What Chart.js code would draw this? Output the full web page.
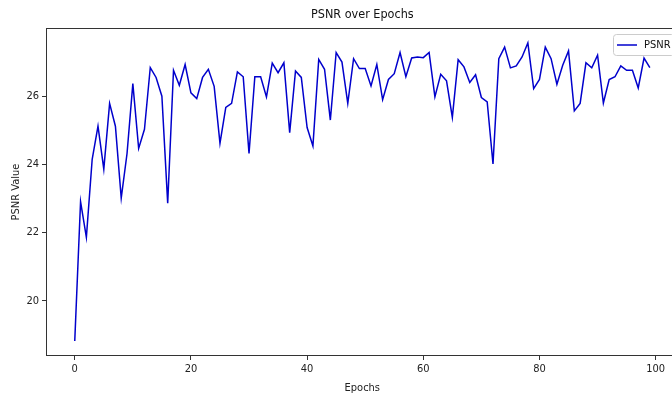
<!DOCTYPE html>
<html lang="en">
<head>
    <meta charset="UTF-8">
    <title>PSNR over Epochs</title>
    <script src="https://cdn.jsdelivr.net/npm/chart.js"></script>
    <style>
        body {
            margin: 0;
            background: #fff;
            overflow: hidden;
        }
        /* a figura original é um pouco mais larga que a janela: a borda direita fica cortada */
        .chart-container {
            width: 680px;
            height: 396px;
        }
    </style>
</head>
<body>
    <div class="chart-container">
        <canvas id="psnrChart"></canvas>
    </div>

    <script>
        // Dados
        const epochs = [
            0, 1, 2, 3, 4, 5, 6, 7, 8, 9, 10, 11, 12, 13, 14, 15, 16, 17, 18, 19,
            20, 21, 22, 23, 24, 25, 26, 27, 28, 29, 30, 31, 32, 33, 34, 35, 36, 37, 38, 39,
            40, 41, 42, 43, 44, 45, 46, 47, 48, 49, 50, 51, 52, 53, 54, 55, 56, 57, 58, 59,
            60, 61, 62, 63, 64, 65, 66, 67, 68, 69, 70, 71, 72, 73, 74, 75, 76, 77, 78, 79,
            80, 81, 82, 83, 84, 85, 86, 87, 88, 89, 90, 91, 92, 93, 94, 95, 96, 97, 98, 99
        ];
        const psnr = [
            18.82, 22.91, 21.86, 24.15, 25.12, 23.86, 25.79, 25.12, 23.01, 24.32,
            26.37, 24.47, 25.03, 26.84, 26.55, 26.00, 22.86, 26.76, 26.32, 26.93,
            26.10, 25.93, 26.55, 26.79, 26.29, 24.62, 25.67, 25.79, 26.71, 26.57,
            24.32, 26.57, 26.57, 25.98, 26.97, 26.69, 26.98, 24.93, 26.74, 26.55,
            25.08, 24.54, 27.08, 26.79, 25.30, 27.28, 27.00, 25.79, 27.10, 26.81,
            26.81, 26.30, 26.93, 25.90, 26.49, 26.66, 27.28, 26.57, 27.12, 27.15,
            27.13, 27.28, 25.98, 26.64, 26.45, 25.38, 27.07, 26.86, 26.40, 26.63,
            25.96, 25.83, 24.01, 27.10, 27.44, 26.83, 26.89, 27.15, 27.56, 26.22,
            26.49, 27.44, 27.10, 26.35, 26.91, 27.33, 25.57, 25.79, 26.98, 26.83,
            27.20, 25.80, 26.49, 26.57, 26.89, 26.76, 26.76, 26.24, 27.12, 26.84
        ];
        const xTicks = [0, 20, 40, 60, 80, 100];
        const yTicks = [20, 22, 24, 26];

        const FONT = "'DejaVu Sans Condensed', 'DejaVu Sans', sans-serif";
        const AXIS_COLOR = '#333';

        // Título, moldura e legenda no estilo matplotlib
        const decorPlugin = {
            id: 'decor',
            afterDraw(chart) {
                const { ctx, chartArea: a } = chart;
                ctx.save();
                // moldura do gráfico
                ctx.strokeStyle = AXIS_COLOR;
                ctx.lineWidth = 1;
                ctx.strokeRect(a.left + 0.5, a.top + 0.5, a.right - a.left - 1, a.bottom - a.top - 1);

                // título
                ctx.fillStyle = '#111';
                ctx.font = '12.5px ' + FONT;
                ctx.textAlign = 'center';
                ctx.textBaseline = 'middle';
                ctx.fillText('PSNR over Epochs', (a.left + a.right) / 2, 15);

                // legenda (canto superior direito)
                const lw = 61, lh = 21;
                const lx = Math.round(a.right - 5 - lw) + 0.5, ly = 34.5;
                ctx.fillStyle = 'rgba(255,255,255,0.85)';
                ctx.strokeStyle = '#ccc';
                ctx.beginPath();
                ctx.roundRect(lx, ly, lw, lh, 3);
                ctx.fill();
                ctx.stroke();
                ctx.strokeStyle = '#0000cc';
                ctx.lineWidth = 1.5;
                ctx.beginPath();
                ctx.moveTo(lx + 3.5, ly + lh / 2);
                ctx.lineTo(lx + 23.5, ly + lh / 2);
                ctx.stroke();
                ctx.fillStyle = '#111';
                ctx.font = '11px ' + FONT;
                ctx.textAlign = 'left';
                ctx.fillText('PSNR', lx + 30.5, ly + lh / 2 + 0.5);
                ctx.restore();
            }
        };

        const ctx = document.getElementById('psnrChart').getContext('2d');
        new Chart(ctx, {
            type: 'line',
            data: {
                labels: epochs,
                datasets: [{
                    label: 'PSNR',
                    data: psnr,
                    borderColor: '#0000cc',
                    borderWidth: 1.5,
                    pointRadius: 0,
                    tension: 0,
                    fill: false
                }]
            },
            options: {
                responsive: true,
                maintainAspectRatio: false,
                animation: false,
                layout: { padding: { top: 28, right: 1.4, left: 0, bottom: 0 } },
                plugins: {
                    legend: { display: false },
                    title: { display: false },
                    tooltip: { enabled: false }
                },
                scales: {
                    x: {
                        type: 'linear',
                        min: -4.95,
                        max: 103.95,
                        afterBuildTicks: (s) => { s.ticks = xTicks.map(v => ({ value: v })); },
                        afterFit: (s) => { s.height = 40; },
                        grid: { display: true, drawOnChartArea: false, drawTicks: true, tickLength: 4, color: AXIS_COLOR },
                        border: { display: false },
                        ticks: { color: '#222', font: { family: FONT, size: 11 }, padding: 3, maxRotation: 0 },
                        title: { display: true, text: 'Epochs', color: '#222', font: { family: FONT, size: 11 }, padding: { top: 0, bottom: 1 } }
                    },
                    y: {
                        min: 18.38,
                        max: 28.0,
                        afterBuildTicks: (s) => { s.ticks = yTicks.map(v => ({ value: v })); },
                        afterFit: (s) => { s.width = 46; },
                        grid: { display: true, drawOnChartArea: false, drawTicks: true, tickLength: 4, color: AXIS_COLOR },
                        border: { display: false },
                        ticks: { color: '#222', font: { family: FONT, size: 11 }, padding: 3 },
                        title: { display: true, text: 'PSNR Value', color: '#222', font: { family: FONT, size: 11 }, padding: { top: 9.5, bottom: 0 } }
                    }
                }
            },
            plugins: [decorPlugin]
        });
    </script>
</body>
</html>
